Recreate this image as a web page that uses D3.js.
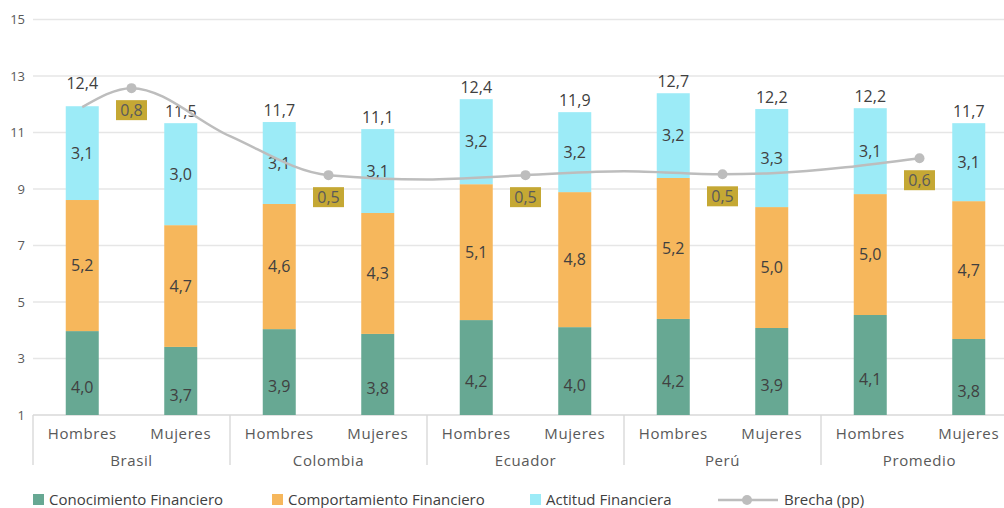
<!DOCTYPE html>
<html>
<head>
<meta charset="utf-8">
<script src="https://cdn.jsdelivr.net/npm/d3@7"></script>
<style>
  html, body { margin: 0; padding: 0; background: #fff; }
  svg { display: block; font-family: "Open Sans", sans-serif; }
</style>
</head>
<body>
<svg id="chart" width="1004" height="508"></svg>
<script>
// ---------- data ----------
const groups = ["Brasil", "Colombia", "Ecuador", "Perú", "Promedio"];
const sexes = ["Hombres", "Mujeres"];
// bar segment heights (as drawn)
const conocimiento   = [3.97, 3.41, 4.04, 3.87, 4.36, 4.11, 4.40, 4.08, 4.54, 3.69];
const comportamiento = [4.64, 4.31, 4.43, 4.28, 4.81, 4.78, 4.99, 4.28, 4.28, 4.88];
const actitud        = [3.32, 3.61, 2.90, 2.97, 3.01, 2.83, 3.00, 3.47, 3.04, 2.76];
// data labels shown on the chart
const conocimientoLbl   = ["4,0", "3,7", "3,9", "3,8", "4,2", "4,0", "4,2", "3,9", "4,1", "3,8"];
const comportamientoLbl = ["5,2", "4,7", "4,6", "4,3", "5,1", "4,8", "5,2", "5,0", "5,0", "4,7"];
const actitudLbl        = ["3,1", "3,0", "3,1", "3,1", "3,2", "3,2", "3,2", "3,3", "3,1", "3,1"];
const totalLbl          = ["12,4", "11,5", "11,7", "11,1", "12,4", "11,9", "12,7", "12,2", "12,2", "11,7"];
// brecha (pp) per country
const brecha    = ["0,8", "0,5", "0,5", "0,5", "0,6"];
// brecha curve as drawn: slot position (in bar-slot units) and height on the axis
const brechaSlot  = [0.5, 1, 2, 3, 4, 5, 6, 7, 7.5, 9];
const brechaValue = [11.90, 12.57, 10.87, 9.49, 9.34, 9.49, 9.63, 9.52, 9.56, 10.09];
const brechaMarkerSlot = [1, 3, 5, 7, 9];
const yTicks = [1, 3, 5, 7, 9, 11, 13, 15];
const seriesNames = ["Conocimiento Financiero", "Comportamiento Financiero", "Actitud Financiera", "Brecha (pp)"];

// ---------- setup ----------
const colors = ["#67A893", "#F6B75C", "#9CEBF7"];
const lineColor = "#BDBDBD";
const svg = d3.select("#chart");
const W = 1004;
const plotLeft = 33, plotRight = 1018, plotTop = 19.5, plotBottom = 415;

const cats = [];
groups.forEach(g => sexes.forEach(s => cats.push(g + "|" + s)));

const xSlot = d3.scaleLinear().domain([0, cats.length]).range([plotLeft, plotRight]);
const x = d3.scaleBand().domain(cats).range([plotLeft, plotRight])
  .paddingInner(0.665).paddingOuter(0.3325);
const y = d3.scaleLinear().domain([1, 15]).range([plotBottom, plotTop]);

// gridlines
svg.append("g").selectAll("line").data(yTicks).join("line")
  .attr("x1", plotLeft).attr("x2", W)
  .attr("y1", d => y(d)).attr("y2", d => y(d))
  .attr("stroke", d => d === 1 ? "#D9D9D9" : "#E6E6E6")
  .attr("stroke-width", 1.4);

// y axis labels
const yAxis = d3.axisLeft(y).tickValues(yTicks).tickSize(0).tickPadding(0);
const ya = svg.append("g").attr("transform", "translate(25,0)").call(yAxis);
ya.select(".domain").remove();
ya.selectAll("text").attr("font-family", "Open Sans").attr("font-size", 13)
  .attr("fill", "#595959");

// category separators
const sepSlots = d3.range(0, cats.length + 1, 2);
svg.append("g").selectAll("line").data(sepSlots).join("line")
  .attr("x1", d => xSlot(d)).attr("x2", d => xSlot(d))
  .attr("y1", plotBottom).attr("y2", 465)
  .attr("stroke", "#D9D9D9").attr("stroke-width", 1.4);

// stacked data
const rows = cats.map((c, i) => ({ key: c, vals: [conocimiento[i], comportamiento[i], actitud[i]],
  lbls: [conocimientoLbl[i], comportamientoLbl[i], actitudLbl[i]], total: totalLbl[i] }));

const barG = svg.append("g");
rows.forEach((r, i) => {
  let base = 0;
  r.vals.forEach((v, k) => {
    const lo = base, hi = base + v;
    base = hi;
    barG.append("rect")
      .attr("x", x(r.key)).attr("width", x.bandwidth())
      .attr("y", y(hi)).attr("height", y(Math.max(lo, 1)) - y(hi))
      .attr("fill", colors[k]);
    barG.append("text")
      .attr("x", x(r.key) + x.bandwidth() / 2)
      .attr("y", y((lo + hi) / 2))
      .attr("dy", "0.35em")
      .attr("text-anchor", "middle")
      .attr("font-size", 16).attr("fill", "#404040")
      .text(r.lbls[k]);
  });
  barG.append("text")
    .attr("x", x(r.key) + x.bandwidth() / 2)
    .attr("y", y(base) - (i === 0 ? 17 : 6))
    .attr("text-anchor", "middle")
    .attr("font-size", 16).attr("fill", "#404040")
    .text(r.total);
});

// brecha line
const pts = brechaSlot.map((s, i) => [xSlot(s), y(brechaValue[i])]);
svg.append("path")
  .attr("d", d3.line().curve(d3.curveMonotoneX)(pts))
  .attr("fill", "none").attr("stroke", lineColor).attr("stroke-width", 2.5);

const markers = brechaMarkerSlot.map((s, i) => {
  const j = brechaSlot.indexOf(s);
  return { x: xSlot(s), y: y(brechaValue[j]), lbl: brecha[i] };
});
const mg = svg.append("g");
mg.selectAll("circle").data(markers).join("circle")
  .attr("cx", d => d.x).attr("cy", d => d.y).attr("r", 5)
  .attr("fill", lineColor);
const lg = mg.selectAll("g.lbl").data(markers).join("g").attr("class", "lbl")
  .attr("transform", d => `translate(${d.x},${d.y + 22})`);
lg.append("rect").attr("x", -15.5).attr("y", -10).attr("width", 31).attr("height", 20)
  .attr("fill", "#C5A834");
lg.append("text").attr("text-anchor", "middle").attr("dy", "0.36em")
  .attr("font-size", 16).attr("fill", "#5A5A5A").text(d => d.lbl);

// x labels
const xl = svg.append("g").attr("font-size", 15).attr("fill", "#595959")
  .attr("letter-spacing", "0.6px");
xl.selectAll("text.sex").data(cats).join("text").attr("class", "sex")
  .attr("x", d => x(d) + x.bandwidth() / 2).attr("y", 439)
  .attr("text-anchor", "middle").text(d => d.split("|")[1]);
xl.selectAll("text.grp").data(groups).join("text").attr("class", "grp")
  .attr("x", (d, i) => xSlot(i * 2 + 1)).attr("y", 466)
  .attr("text-anchor", "middle").text(d => d);

// legend
const leg = svg.append("g").attr("font-size", 15).attr("fill", "#404040");
const legX = [33, 272, 530];
[0, 1, 2].forEach(k => {
  leg.append("rect").attr("x", legX[k]).attr("y", 494).attr("width", 11).attr("height", 11)
    .attr("fill", colors[k]);
  leg.append("text").attr("x", legX[k] + 16).attr("y", 500).attr("dy", "0.35em")
    .text(seriesNames[k]);
});
leg.append("line").attr("x1", 718).attr("x2", 778).attr("y1", 500).attr("y2", 500)
  .attr("stroke", lineColor).attr("stroke-width", 2.5);
leg.append("circle").attr("cx", 747).attr("cy", 500).attr("r", 5).attr("fill", lineColor);
leg.append("text").attr("x", 784).attr("y", 500).attr("dy", "0.35em").text(seriesNames[3]);
</script>
</body>
</html>
